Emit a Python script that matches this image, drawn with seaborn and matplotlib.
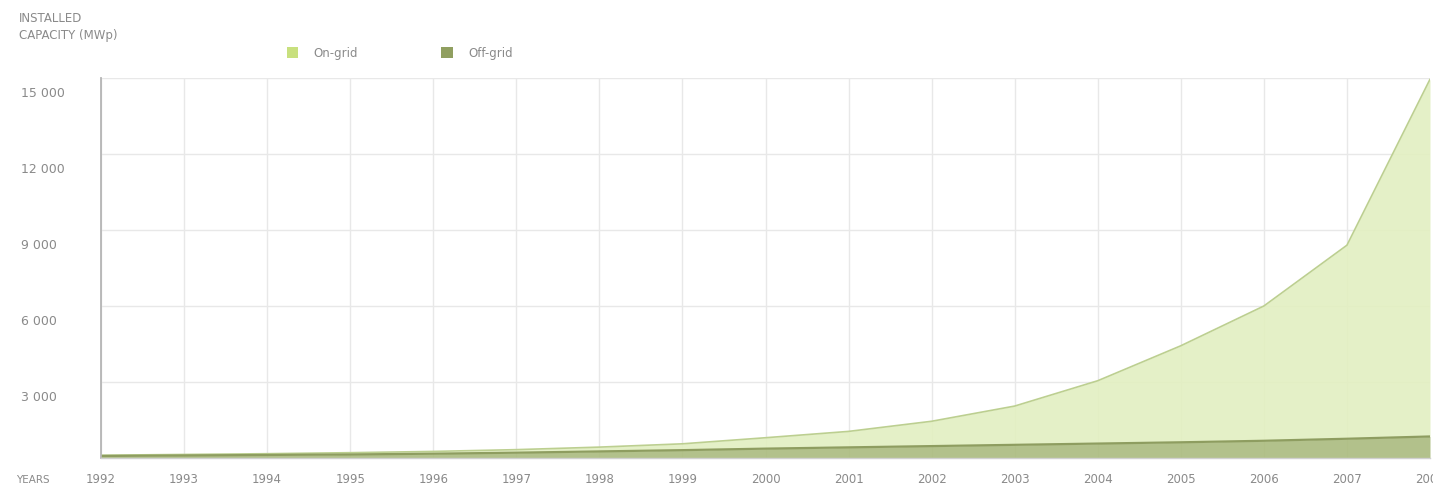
import numpy as np
import pandas as pd
import matplotlib
matplotlib.use("Agg")
import matplotlib.pyplot as plt
import seaborn as sns
from matplotlib.patches import Patch
from matplotlib.transforms import ScaledTranslation

# ---- data ----
years = list(range(1992, 2009))
off_grid = [80, 100, 120, 140, 170, 210, 260, 310, 370, 420, 470, 520, 570, 620, 680, 760, 850]
on_grid = [30, 40, 50, 70, 90, 120, 170, 250, 430, 630, 980, 1530, 2480, 3810, 5320, 7640, 14100]
series_names = ["On-grid", "Off-grid"]
y_ticks = [0, 3000, 6000, 9000, 12000, 15000]
y_tick_labels = ["", "3 000", "6 000", "9 000", "12 000", "15 000"]
x_tick_labels = [str(y) for y in years]
title_lines = ["INSTALLED", "CAPACITY (MWp)"]
x_caption = "YEARS"

# ---- styles ----
fill_colors = {"On-grid": "#e2efc1", "Off-grid": "#aabb7e"}
legend_colors = {"On-grid": "#c8e07e", "Off-grid": "#909f60"}
text_color = "#8a8a8a"

sns.set_theme(style="white")
plt.rcParams["font.family"] = ["DejaVu Sans"]

df = pd.DataFrame({
    "year": years * 2,
    "type": ["On-grid"] * len(years) + ["Off-grid"] * len(years),
    "value": on_grid + off_grid,
})
total = [a + b for a, b in zip(on_grid, off_grid)]

W, H = 1433, 491
fig = plt.figure(figsize=(W / 100, H / 100), dpi=100)
ax = fig.add_axes([101 / W, 1 - 458 / H, (1430 - 101) / W, (458 - 78) / H])

sns.histplot(data=df, x="year", weights="value", hue="type", hue_order=series_names,
             multiple="stack", element="poly", discrete=True, palette=fill_colors,
             alpha=0.9, linewidth=0, legend=False, ax=ax)
sns.lineplot(x=years, y=total, color="#bccf90", linewidth=1.2, ax=ax)
sns.lineplot(x=years, y=off_grid, color="#8e9d60", linewidth=1.6, ax=ax)

ax.set_xlim(years[0], years[-1])
ax.set_ylim(0, 15000)
ax.set_xlabel("")
ax.set_ylabel("")

ax.grid(True, color="#e8e8e8", linewidth=1)
ax.set_axisbelow(True)

for s in ["top", "right"]:
    ax.spines[s].set_visible(False)
ax.spines["left"].set_color("#b5b5b5")
ax.spines["left"].set_linewidth(1.3)
ax.spines["bottom"].set_color("#d0d0d0")
ax.spines["bottom"].set_linewidth(1.0)

# y tick labels: left-aligned near the figure edge, just below each gridline
ax.set_yticks(y_ticks, y_tick_labels)
ax.tick_params(axis="y", length=63, width=1, color="#eeeeee", pad=-5.5,
               labelsize=9, labelcolor=text_color)
for lab in ax.get_yticklabels():
    lab.set_horizontalalignment("left")
    lab.set_transform(lab.get_transform() + ScaledTranslation(0, -0.14, fig.dpi_scale_trans))

# x tick labels centred on the year gridlines
ax.set_xticks(years, x_tick_labels)
ax.tick_params(axis="x", length=0, pad=11, labelsize=8.5, labelcolor=text_color)

fig.text(16 / W, 1 - 480 / H, x_caption, fontsize=7.5, color=text_color, va="center", ha="left")
fig.text(19 / W, 1 - 19 / H, title_lines[0], fontsize=8.5, color=text_color, va="center", ha="left")
fig.text(19 / W, 1 - 35 / H, title_lines[1], fontsize=8.5, color=text_color, va="center", ha="left")

handles = [Patch(facecolor=legend_colors[n], edgecolor="none", label=n) for n in series_names]
fig.legend(handles=handles, loc="center left", bbox_to_anchor=(276 / W, 1 - 53 / H),
           ncol=2, frameon=False, handlelength=1.0, handleheight=1.0,
           handletextpad=1.3, columnspacing=7, fontsize=8.5, labelcolor=text_color)

fig.savefig("out.png", dpi=100)
